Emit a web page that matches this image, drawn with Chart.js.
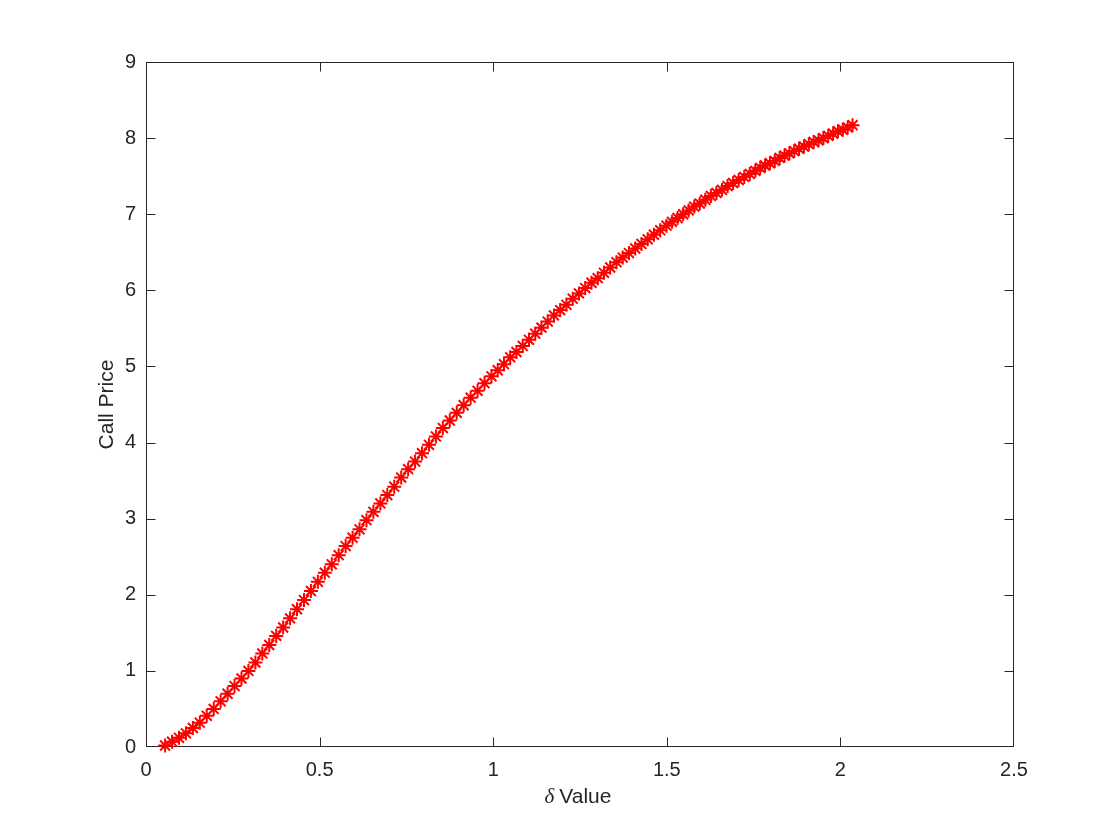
<!DOCTYPE html>
<html>
<head>
<meta charset="utf-8">
<script src="https://cdn.jsdelivr.net/npm/chart.js@4.4.1/dist/chart.umd.min.js"></script>
<style>
  html, body { margin: 0; padding: 0; background: #fff; }
  #wrap { width: 1120px; height: 840px; }
</style>
</head>
<body>
<div id="wrap"><canvas id="myChart" width="1120" height="840"></canvas></div>
<script>
// delta values (x) and call prices (y)
const deltaValues = [
  0.055, 0.075, 0.095, 0.115, 0.135, 0.155, 0.175, 0.195, 0.215, 0.235,
  0.255, 0.275, 0.295, 0.315, 0.335, 0.355, 0.375, 0.395, 0.415, 0.435,
  0.455, 0.475, 0.495, 0.515, 0.535, 0.555, 0.575, 0.595, 0.615, 0.635,
  0.655, 0.675, 0.695, 0.715, 0.735, 0.755, 0.775, 0.795, 0.815, 0.835,
  0.855, 0.875, 0.895, 0.915, 0.935, 0.955, 0.975, 0.995,
  1.013, 1.031, 1.049, 1.067, 1.085, 1.103, 1.121, 1.139, 1.157, 1.175,
  1.193, 1.211, 1.229, 1.247, 1.265, 1.283, 1.301, 1.319, 1.337, 1.355,
  1.373, 1.391, 1.409, 1.427, 1.445, 1.463, 1.481, 1.499,
  1.515, 1.531, 1.547, 1.563, 1.579, 1.595, 1.611, 1.627, 1.643, 1.659,
  1.675, 1.691, 1.707, 1.723, 1.739, 1.755,
  1.769, 1.783, 1.797, 1.811, 1.825, 1.839, 1.853, 1.867, 1.881, 1.895,
  1.909, 1.923, 1.937, 1.951, 1.965, 1.979, 1.993, 2.007, 2.021, 2.035
];
const callPrices = [
  0.02, 0.07, 0.12, 0.18, 0.25, 0.32, 0.41, 0.50, 0.60, 0.70,
  0.80, 0.90, 1.00, 1.11, 1.23, 1.34, 1.46, 1.57, 1.69, 1.81,
  1.93, 2.05, 2.17, 2.29, 2.40, 2.52, 2.64, 2.75, 2.86, 2.98,
  3.09, 3.20, 3.31, 3.42, 3.54, 3.65, 3.75, 3.86, 3.97, 4.08,
  4.19, 4.29, 4.39, 4.49, 4.59, 4.68, 4.78, 4.87,
  4.95, 5.03, 5.12, 5.19, 5.27, 5.35, 5.43, 5.51, 5.59, 5.67,
  5.74, 5.81, 5.89, 5.96, 6.03, 6.10, 6.16, 6.23, 6.30, 6.37,
  6.43, 6.49, 6.55, 6.61, 6.67, 6.73, 6.79, 6.85,
  6.90, 6.95, 7.00, 7.05, 7.10, 7.14, 7.19, 7.24, 7.28, 7.32,
  7.37, 7.41, 7.45, 7.49, 7.53, 7.57,
  7.61, 7.64, 7.67, 7.70, 7.74, 7.77, 7.80, 7.83, 7.86, 7.89,
  7.92, 7.95, 7.97, 8.00, 8.03, 8.06, 8.09, 8.11, 8.14, 8.17
];
const xTicks = [0, 0.5, 1, 1.5, 2, 2.5];
const yTicks = [0, 1, 2, 3, 4, 5, 6, 7, 8, 9];

const axisColor = '#262626';
const ctx = document.getElementById('myChart').getContext('2d');

// box around the axes with inward ticks on all four sides, plus x label
const matlabAxes = {
    id: 'matlabAxes',
    beforeDatasetsDraw(chart) {
        const { ctx, chartArea: a, scales } = chart;
        const tick = 9;
        const l = Math.round(a.left) + 0.5, r = Math.round(a.right) - 0.5;
        const t = Math.round(a.top) + 0.5, b = Math.round(a.bottom) - 0.5;
        ctx.save();
        ctx.strokeStyle = axisColor;
        ctx.lineWidth = 1;
        ctx.strokeRect(l, t, r - l, b - t);
        ctx.beginPath();
        scales.x.ticks.forEach(tk => {
            const px = Math.min(r, Math.max(l, Math.round(scales.x.getPixelForValue(tk.value)) + 0.5));
            ctx.moveTo(px, b); ctx.lineTo(px, b - tick);
            ctx.moveTo(px, t); ctx.lineTo(px, t + tick);
        });
        scales.y.ticks.forEach(tk => {
            const py = Math.min(b, Math.max(t, Math.round(scales.y.getPixelForValue(tk.value)) + 0.5));
            ctx.moveTo(l, py); ctx.lineTo(l + tick, py);
            ctx.moveTo(r, py); ctx.lineTo(r - tick, py);
        });
        ctx.stroke();
        ctx.restore();
    },
    afterDraw(chart) {
        const { ctx, chartArea: a } = chart;
        const greek = '\u03B4';
        const rest = 'Value';
        const greekFont = 'italic 21px "Liberation Serif"';
        const textFont = '21px "Liberation Sans"';
        const gap = 5;
        ctx.save();
        ctx.fillStyle = axisColor;
        ctx.textBaseline = 'middle';
        ctx.font = greekFont;
        const w1 = ctx.measureText(greek).width;
        ctx.font = textFont;
        const w2 = ctx.measureText(rest).width;
        const x0 = (a.left + a.right) / 2 - 2 - (w1 + gap + w2) / 2;
        ctx.font = greekFont;
        ctx.fillText(greek, x0, 797);
        ctx.font = textFont;
        ctx.fillText(rest, x0 + w1 + gap, 797);
        ctx.restore();
    }
};

new Chart(ctx, {
    type: 'scatter',
    data: {
        datasets: [{
            data: deltaValues.map((x, i) => ({ x: x, y: callPrices[i] })),
            pointStyle: 'star',
            pointRadius: 7,
            pointHoverRadius: 7,
            borderColor: '#ff0000',
            backgroundColor: '#ff0000',
            pointBorderWidth: 2,
            showLine: false,
            clip: false
        }]
    },
    options: {
        responsive: false,
        animation: false,
        events: [],
        layout: { padding: { top: 62, right: 106, left: 0, bottom: 0 } },
        plugins: { legend: { display: false }, tooltip: { enabled: false } },
        scales: {
            x: {
                type: 'linear',
                min: 0, max: 2.5,
                afterBuildTicks: s => { s.ticks = xTicks.map(v => ({ value: v })); },
                afterFit: s => { s.height = 93; },
                grid: { display: false, tickLength: 0 },
                border: { display: false },
                ticks: {
                    color: axisColor,
                    font: { family: 'Liberation Sans', size: 20 },
                    padding: 11,
                    maxRotation: 0,
                    callback: v => String(v)
                }
            },
            y: {
                type: 'linear',
                min: 0, max: 9,
                afterBuildTicks: s => { s.ticks = yTicks.map(v => ({ value: v })); },
                afterFit: s => { s.width = 146; },
                grid: { display: false, tickLength: 0 },
                border: { display: false },
                ticks: {
                    color: axisColor,
                    font: { family: 'Liberation Sans', size: 20 },
                    padding: 10,
                    callback: v => String(v)
                },
                title: {
                    display: true,
                    text: 'Call Price',
                    color: axisColor,
                    font: { family: 'Liberation Sans', size: 21 },
                    padding: { top: 95, bottom: 0 }
                }
            }
        }
    },
    plugins: [matlabAxes]
});
</script>
</body>
</html>
